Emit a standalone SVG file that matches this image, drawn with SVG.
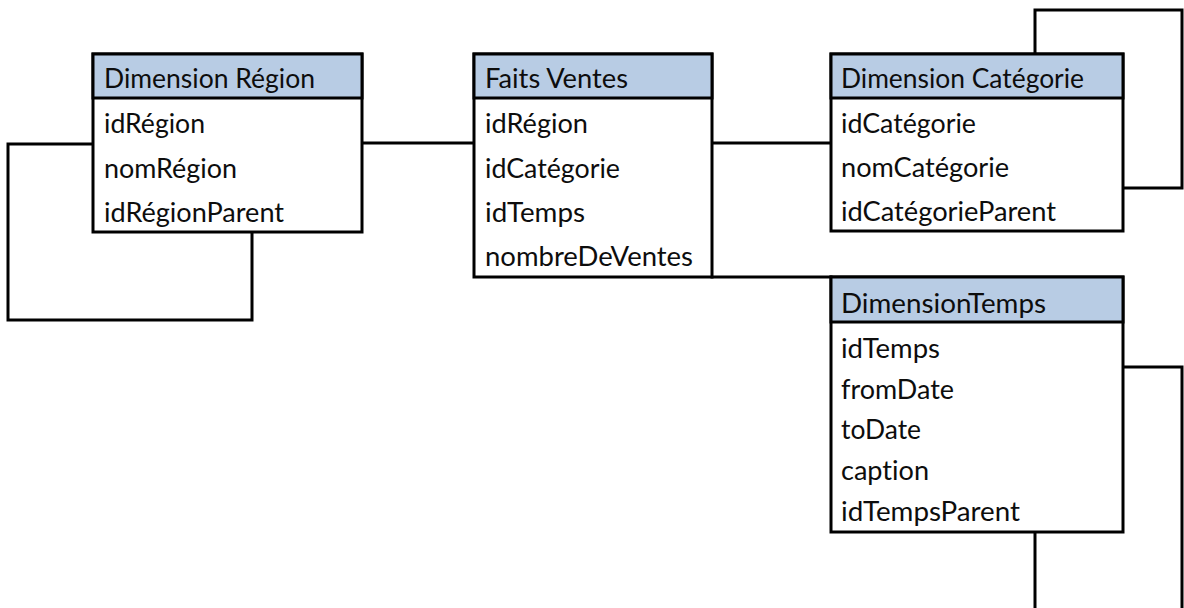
<svg xmlns="http://www.w3.org/2000/svg" width="1184" height="608" viewBox="0 0 1184 608">
<style>
.box{fill:#ffffff;stroke:#000;stroke-width:3}
.hdr{fill:#B8CCE4;stroke:#000;stroke-width:3}
.conn{fill:none;stroke:#000;stroke-width:3;stroke-linejoin:miter;stroke-linecap:square}
text{font-family:Lato,"Open Sans","Liberation Sans",sans-serif;font-size:26px;fill:#0d0d0d;font-variant-ligatures:none;font-feature-settings:"liga" 0,"clig" 0}
</style>
<rect x="0" y="0" width="1184" height="608" fill="#ffffff"/>
<g id="connectors">
<path class="conn" d="M362,143 H474"/>
<path class="conn" d="M93,144 H8 V320 H252 V232"/>
<path class="conn" d="M712,143 H831"/>
<path class="conn" d="M712,277 H831"/>
<path class="conn" d="M1035,54 V10 H1182 V188 H1123"/>
<path class="conn" d="M1123,367 H1182 V612"/>
<path class="conn" d="M1035,532 V612"/>
</g>
<g id="dim-region">
<rect class="box" x="93" y="54" width="269" height="178"/>
<rect class="hdr" x="93" y="54" width="269" height="44"/>
<text x="104" y="88" textLength="211" lengthAdjust="spacingAndGlyphs">Dimension Région</text>
<text x="104" y="133" textLength="101" lengthAdjust="spacingAndGlyphs">idRégion</text>
<text x="104" y="177.5" textLength="133" lengthAdjust="spacingAndGlyphs">nomRégion</text>
<text x="104" y="222" textLength="180" lengthAdjust="spacingAndGlyphs">idRégionParent</text>
</g>
<g id="faits-ventes">
<rect class="box" x="474" y="54" width="238" height="223"/>
<rect class="hdr" x="474" y="54" width="238" height="44"/>
<text x="485" y="88" textLength="143" lengthAdjust="spacingAndGlyphs">Faits Ventes</text>
<text x="485" y="133" textLength="103" lengthAdjust="spacingAndGlyphs">idRégion</text>
<text x="485" y="177.5" textLength="135" lengthAdjust="spacingAndGlyphs">idCatégorie</text>
<text x="485" y="221.5" textLength="100" lengthAdjust="spacingAndGlyphs">idTemps</text>
<text x="485" y="265.5" textLength="208" lengthAdjust="spacingAndGlyphs">nombreDeVentes</text>
</g>
<g id="dim-categorie">
<rect class="box" x="831" y="54" width="292" height="177"/>
<rect class="hdr" x="831" y="54" width="292" height="44"/>
<text x="841" y="88" textLength="243" lengthAdjust="spacingAndGlyphs">Dimension Catégorie</text>
<text x="841" y="133" textLength="135" lengthAdjust="spacingAndGlyphs">idCatégorie</text>
<text x="841" y="177" textLength="168" lengthAdjust="spacingAndGlyphs">nomCatégorie</text>
<text x="841" y="220.5" textLength="215" lengthAdjust="spacingAndGlyphs">idCatégorieParent</text>
</g>
<g id="dim-temps">
<rect class="box" x="831" y="277" width="292" height="255"/>
<rect class="hdr" x="831" y="277" width="292" height="45"/>
<text x="841" y="313" textLength="205" lengthAdjust="spacingAndGlyphs">DimensionTemps</text>
<text x="841" y="357.5" textLength="99" lengthAdjust="spacingAndGlyphs">idTemps</text>
<text x="841" y="398.5" textLength="113" lengthAdjust="spacingAndGlyphs">fromDate</text>
<text x="841" y="439" textLength="80" lengthAdjust="spacingAndGlyphs">toDate</text>
<text x="841" y="479.5" textLength="88" lengthAdjust="spacingAndGlyphs">caption</text>
<text x="841" y="520.5" textLength="179" lengthAdjust="spacingAndGlyphs">idTempsParent</text>
</g>
</svg>
